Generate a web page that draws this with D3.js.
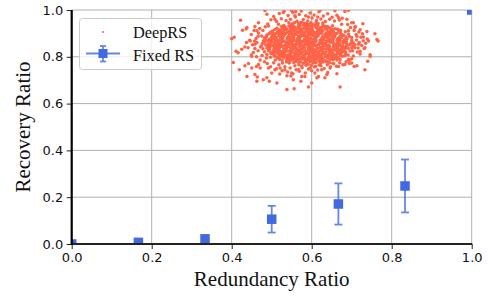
<!DOCTYPE html>
<html><head><meta charset="utf-8">
<script src="https://cdn.jsdelivr.net/npm/d3@7"></script>
<style>html,body{margin:0;padding:0;background:#fff;}svg{display:block}</style>
</head><body><svg id="c" width="488" height="297"></svg>
<script>
// ---- data ----
const xTicks = [0, 0.2, 0.4, 0.6, 0.8, 1.0];
const yTicks = [0, 0.2, 0.4, 0.6, 0.8, 1.0];
const fixedX = [0, 0.1667, 0.3333, 0.5, 0.6667, 0.8333, 1.0];
const fixedY = [0.0, 0.007, 0.022, 0.106, 0.171, 0.248, 1.0];
const fixedErr = [0, 0.004, 0.012, 0.057, 0.088, 0.113, 0];
const deepRS = [
[0.552,0.941],[0.557,0.946],[0.570,0.944],[0.575,0.948],[0.582,0.943],[0.593,0.940],[0.598,0.945],[0.611,0.947],[0.616,0.942],[0.628,0.944],
[0.525,0.929],[0.530,0.934],[0.543,0.932],[0.548,0.936],[0.555,0.931],[0.566,0.928],[0.571,0.933],[0.585,0.935],[0.591,0.930],[0.598,0.932],[0.610,0.929],[0.615,0.934],[0.628,0.936],[0.633,0.931],[0.640,0.928],[0.652,0.933],
[0.508,0.917],[0.513,0.922],[0.526,0.920],[0.531,0.924],[0.538,0.919],[0.549,0.916],[0.554,0.921],[0.568,0.923],[0.574,0.918],[0.581,0.920],[0.593,0.917],[0.598,0.922],[0.611,0.924],[0.616,0.919],[0.623,0.916],[0.634,0.921],[0.639,0.923],[0.653,0.918],[0.659,0.920],[0.666,0.917],
[0.497,0.905],[0.502,0.910],[0.515,0.908],[0.520,0.912],[0.527,0.907],[0.538,0.904],[0.543,0.909],[0.557,0.911],[0.563,0.906],[0.570,0.908],[0.582,0.905],[0.587,0.910],[0.600,0.912],[0.605,0.907],[0.612,0.904],[0.623,0.909],[0.628,0.911],[0.642,0.906],[0.648,0.908],[0.655,0.905],[0.667,0.910],[0.672,0.912],[0.684,0.907],
[0.488,0.893],[0.493,0.898],[0.506,0.896],[0.511,0.900],[0.518,0.895],[0.529,0.892],[0.534,0.897],[0.548,0.899],[0.554,0.894],[0.561,0.896],[0.573,0.893],[0.578,0.898],[0.591,0.900],[0.596,0.895],[0.603,0.892],[0.614,0.897],[0.619,0.899],[0.633,0.894],[0.639,0.896],[0.646,0.893],[0.658,0.898],[0.663,0.900],[0.675,0.895],[0.680,0.892],[0.692,0.897],
[0.482,0.881],[0.487,0.886],[0.500,0.884],[0.505,0.888],[0.512,0.883],[0.523,0.880],[0.528,0.885],[0.542,0.887],[0.548,0.882],[0.555,0.884],[0.567,0.881],[0.572,0.886],[0.585,0.888],[0.590,0.883],[0.597,0.880],[0.608,0.885],[0.613,0.887],[0.627,0.882],[0.633,0.884],[0.640,0.881],[0.652,0.886],[0.657,0.888],[0.669,0.883],[0.674,0.880],[0.686,0.885],[0.694,0.887],
[0.479,0.869],[0.484,0.874],[0.497,0.872],[0.502,0.876],[0.509,0.871],[0.520,0.868],[0.525,0.873],[0.539,0.875],[0.545,0.870],[0.552,0.872],[0.564,0.869],[0.569,0.874],[0.582,0.876],[0.587,0.871],[0.594,0.868],[0.605,0.873],[0.610,0.875],[0.624,0.870],[0.630,0.872],[0.637,0.869],[0.649,0.874],[0.654,0.876],[0.666,0.871],[0.671,0.868],[0.683,0.873],[0.688,0.875],[0.700,0.870],
[0.477,0.857],[0.482,0.862],[0.495,0.860],[0.500,0.864],[0.507,0.859],[0.518,0.856],[0.523,0.861],[0.537,0.863],[0.543,0.858],[0.550,0.860],[0.562,0.857],[0.567,0.862],[0.580,0.864],[0.585,0.859],[0.592,0.856],[0.603,0.861],[0.608,0.863],[0.622,0.858],[0.628,0.860],[0.635,0.857],[0.647,0.862],[0.652,0.864],[0.664,0.859],[0.669,0.856],[0.681,0.861],[0.686,0.863],[0.698,0.858],[0.704,0.860],
[0.474,0.846],[0.485,0.850],[0.492,0.845],[0.503,0.848],[0.508,0.852],[0.516,0.847],[0.527,0.844],[0.533,0.849],[0.544,0.851],[0.552,0.846],[0.559,0.848],[0.570,0.845],[0.576,0.850],[0.588,0.852],[0.593,0.847],[0.601,0.844],[0.612,0.849],[0.618,0.851],[0.629,0.846],[0.637,0.848],[0.644,0.845],[0.655,0.850],[0.661,0.852],[0.672,0.847],[0.678,0.844],[0.688,0.849],[0.695,0.851],[0.703,0.846],
[0.478,0.834],[0.488,0.838],[0.495,0.833],[0.506,0.836],[0.511,0.840],[0.519,0.835],[0.530,0.832],[0.536,0.837],[0.547,0.839],[0.555,0.834],[0.562,0.836],[0.573,0.833],[0.579,0.838],[0.591,0.840],[0.596,0.835],[0.604,0.832],[0.615,0.837],[0.621,0.839],[0.632,0.834],[0.640,0.836],[0.647,0.833],[0.658,0.838],[0.664,0.840],[0.675,0.835],[0.681,0.832],[0.691,0.837],[0.700,0.839],
[0.482,0.822],[0.492,0.826],[0.499,0.821],[0.510,0.824],[0.515,0.828],[0.523,0.823],[0.534,0.820],[0.540,0.825],[0.551,0.827],[0.559,0.822],[0.566,0.824],[0.577,0.821],[0.583,0.826],[0.595,0.828],[0.600,0.823],[0.608,0.820],[0.619,0.825],[0.625,0.827],[0.636,0.822],[0.644,0.824],[0.651,0.821],[0.662,0.826],[0.668,0.828],[0.679,0.823],[0.685,0.820],[0.696,0.825],
[0.488,0.810],[0.498,0.814],[0.505,0.809],[0.516,0.812],[0.521,0.816],[0.529,0.811],[0.540,0.808],[0.546,0.813],[0.557,0.815],[0.565,0.810],[0.572,0.812],[0.583,0.809],[0.589,0.814],[0.601,0.816],[0.606,0.811],[0.614,0.808],[0.625,0.813],[0.631,0.815],[0.642,0.810],[0.650,0.812],[0.657,0.809],[0.668,0.814],[0.674,0.816],[0.685,0.811],[0.691,0.808],
[0.497,0.798],[0.507,0.802],[0.514,0.797],[0.525,0.800],[0.530,0.804],[0.538,0.799],[0.549,0.796],[0.555,0.801],[0.566,0.803],[0.574,0.798],[0.581,0.800],[0.592,0.797],[0.598,0.802],[0.610,0.804],[0.615,0.799],[0.623,0.796],[0.634,0.801],[0.640,0.803],[0.651,0.798],[0.659,0.800],[0.666,0.797],[0.677,0.802],[0.683,0.804],
[0.509,0.786],[0.519,0.790],[0.526,0.785],[0.537,0.788],[0.542,0.792],[0.550,0.787],[0.561,0.784],[0.567,0.789],[0.578,0.791],[0.586,0.786],[0.593,0.788],[0.604,0.785],[0.610,0.790],[0.622,0.792],[0.627,0.787],[0.635,0.784],[0.646,0.789],[0.652,0.791],[0.663,0.786],[0.671,0.788],
[0.527,0.774],[0.537,0.778],[0.544,0.773],[0.555,0.776],[0.560,0.780],[0.568,0.775],[0.579,0.772],[0.585,0.777],[0.596,0.779],[0.604,0.774],[0.611,0.776],[0.622,0.773],[0.628,0.778],[0.640,0.780],[0.645,0.775],[0.653,0.772],
[0.558,0.762],[0.568,0.766],[0.575,0.761],[0.586,0.764],[0.591,0.768],[0.599,0.763],[0.610,0.760],[0.619,0.765],
[0.498,0.958],[0.505,0.972],[0.512,0.951],[0.519,0.985],[0.524,0.963],[0.531,0.994],[0.536,0.955],[0.541,0.977],[0.547,0.961],[0.553,0.989],[0.559,0.970],[0.563,0.952],[0.569,0.981],[0.574,0.996],[0.579,0.959],[0.585,0.975],[0.590,0.953],[0.596,0.987],[0.601,0.966],[0.606,0.979],[0.612,0.955],[0.618,0.992],[0.623,0.962],[0.629,0.974],[0.634,0.951],[0.640,0.984],[0.645,0.960],[0.651,0.969],[0.657,0.953],[0.663,0.978],[0.669,0.957],[0.676,0.965],[0.543,0.945],[0.592,0.970],[0.560,0.993],[0.615,0.970],
[0.445,0.871],[0.452,0.852],[0.449,0.895],[0.458,0.835],[0.461,0.878],[0.456,0.912],[0.463,0.861],[0.467,0.902],[0.454,0.818],[0.466,0.826],[0.470,0.921],[0.472,0.842],[0.441,0.839],[0.437,0.861],[0.462,0.800],[0.476,0.806],[0.478,0.912],[0.484,0.928],[0.487,0.795],[0.471,0.786],[0.449,0.808],[0.458,0.930],[0.490,0.940],[0.482,0.779],[0.466,0.888],[0.457,0.867],
[0.708,0.851],[0.712,0.872],[0.716,0.838],[0.711,0.895],[0.719,0.861],[0.723,0.884],[0.706,0.912],[0.714,0.821],[0.725,0.848],[0.729,0.869],[0.702,0.826],[0.718,0.906],[0.731,0.836],[0.735,0.858],[0.704,0.803],[0.697,0.925],[0.690,0.938],[0.700,0.792],[0.721,0.812],[0.739,0.876],[0.709,0.930],[0.694,0.785],[0.713,0.888],[0.727,0.899],
[0.489,0.771],[0.497,0.758],[0.505,0.775],[0.512,0.749],[0.518,0.766],[0.526,0.740],[0.533,0.757],[0.540,0.735],[0.546,0.752],[0.553,0.728],[0.561,0.745],[0.569,0.738],[0.576,0.753],[0.584,0.731],[0.592,0.748],[0.600,0.740],[0.607,0.756],[0.615,0.744],[0.623,0.762],[0.631,0.750],[0.639,0.766],[0.647,0.757],[0.655,0.770],[0.662,0.760],[0.670,0.775],[0.678,0.766],[0.686,0.779],[0.694,0.771],[0.520,0.727],[0.583,0.716],[0.640,0.733],[0.548,0.718],
[0.422,0.956],[0.400,0.877],[0.406,0.884],[0.411,0.824],[0.404,0.776],[0.419,0.745],[0.438,0.716],[0.427,0.913],[0.436,0.919],[0.463,0.695],[0.479,0.702],[0.513,0.688],[0.538,0.660],[0.556,0.663],[0.592,0.671],[0.671,0.671],[0.573,0.695],[0.613,0.710],[0.638,0.724],[0.733,0.745],[0.706,0.759],[0.740,0.781],[0.763,0.874],[0.766,0.867],[0.758,0.898],[0.746,0.809],[0.728,0.941],[0.721,0.916],[0.704,0.945],
[0.433,0.762],[0.442,0.771],[0.450,0.752],[0.462,0.759],[0.467,0.767],[0.471,0.752],[0.458,0.724],[0.464,0.714],[0.488,0.710],[0.494,0.695],[0.538,0.719],[0.554,0.702],[0.508,0.745],[0.521,0.752],[0.533,0.745],[0.492,0.752],[0.500,0.731],[0.550,0.731],[0.567,0.745],[0.575,0.716],[0.416,0.817],[0.450,0.802],
[0.600,0.688],[0.617,0.716],[0.633,0.710],[0.663,0.728],[0.608,0.731],[0.625,0.745],[0.646,0.752],[0.667,0.759],[0.683,0.767],[0.700,0.774],[0.713,0.762],[0.746,0.802],[0.721,0.824],[0.692,0.788],[0.654,0.788],[0.596,0.752],
[0.438,0.925],[0.446,0.868],[0.433,0.842],[0.467,0.946],[0.463,0.911],[0.488,0.982],[0.483,0.998],[0.475,0.889],[0.458,0.854],[0.492,0.932],[0.508,0.961],[0.517,0.939],[0.529,0.989],[0.550,0.997],[0.558,0.975],[0.425,0.832],
[0.621,0.998],[0.658,0.997],[0.683,0.994],[0.692,0.999],[0.688,0.961],[0.700,0.946],[0.708,0.925],[0.738,0.908],[0.742,0.868],[0.729,0.885],[0.717,0.854],[0.733,0.839],[0.700,0.882],[0.692,0.911],[0.667,0.968],[0.675,0.939],[0.708,0.839]
];
// denser inner core of the DeepRS cloud
const deepRSCore = [
[0.567,0.941],[0.579,0.936],[0.586,0.942],[0.592,0.937],[0.604,0.938],[0.611,0.934],
[0.533,0.929],[0.547,0.924],[0.552,0.930],[0.558,0.925],[0.570,0.926],[0.580,0.922],[0.585,0.928],[0.598,0.923],[0.601,0.927],[0.612,0.930],[0.621,0.924],[0.626,0.926],[0.639,0.929],[0.646,0.923],
[0.519,0.914],[0.529,0.910],[0.534,0.916],[0.547,0.911],[0.550,0.915],[0.561,0.918],[0.570,0.912],[0.575,0.914],[0.588,0.917],[0.595,0.912],[0.601,0.918],[0.615,0.913],[0.620,0.914],[0.626,0.910],[0.638,0.916],[0.648,0.911],[0.653,0.915],[0.665,0.918],
[0.504,0.900],[0.518,0.906],[0.524,0.901],[0.530,0.902],[0.544,0.898],[0.550,0.904],[0.557,0.899],[0.569,0.903],[0.576,0.906],[0.581,0.900],[0.594,0.902],[0.601,0.905],[0.607,0.900],[0.621,0.906],[0.625,0.901],[0.636,0.902],[0.645,0.898],[0.649,0.904],[0.660,0.899],[0.671,0.903],
[0.501,0.893],[0.507,0.889],[0.519,0.890],[0.525,0.886],[0.530,0.892],[0.543,0.887],[0.552,0.891],[0.557,0.894],[0.567,0.888],[0.579,0.890],[0.583,0.893],[0.590,0.888],[0.602,0.894],[0.612,0.889],[0.616,0.890],[0.627,0.886],[0.638,0.892],[0.643,0.887],[0.653,0.891],[0.658,0.894],[0.671,0.888],[0.678,0.890],
[0.494,0.875],[0.506,0.879],[0.509,0.882],[0.521,0.876],[0.527,0.878],[0.539,0.881],[0.542,0.876],[0.554,0.882],[0.564,0.877],[0.569,0.878],[0.582,0.874],[0.587,0.880],[0.596,0.875],[0.606,0.879],[0.610,0.882],[0.624,0.876],[0.629,0.878],[0.642,0.881],[0.645,0.876],[0.656,0.882],[0.665,0.877],[0.670,0.878],[0.683,0.874],
[0.489,0.868],[0.500,0.863],[0.511,0.867],[0.516,0.870],[0.527,0.864],[0.531,0.866],[0.543,0.869],[0.551,0.864],[0.557,0.870],[0.571,0.865],[0.575,0.866],[0.587,0.862],[0.593,0.868],[0.599,0.863],[0.611,0.867],[0.621,0.870],[0.625,0.864],[0.639,0.866],[0.643,0.869],[0.653,0.864],[0.663,0.870],[0.667,0.865],[0.679,0.866],[0.686,0.862],
[0.491,0.854],[0.496,0.857],[0.509,0.852],[0.516,0.858],[0.523,0.853],[0.536,0.854],[0.539,0.850],[0.551,0.856],[0.558,0.851],[0.569,0.855],[0.572,0.858],[0.583,0.852],[0.595,0.854],[0.601,0.857],[0.607,0.852],[0.619,0.858],[0.628,0.853],[0.632,0.854],[0.643,0.850],[0.655,0.856],[0.659,0.851],[0.667,0.855],[0.678,0.858],[0.688,0.852],
[0.494,0.841],[0.499,0.846],[0.508,0.839],[0.519,0.842],[0.522,0.844],[0.535,0.838],[0.540,0.843],[0.554,0.845],[0.558,0.840],[0.568,0.846],[0.578,0.842],[0.582,0.839],[0.594,0.844],[0.600,0.841],[0.610,0.846],[0.622,0.840],[0.626,0.842],[0.638,0.845],[0.641,0.838],[0.654,0.843],[0.661,0.840],[0.668,0.846],[0.681,0.842],[0.686,0.839],
[0.493,0.832],[0.505,0.828],[0.511,0.834],[0.517,0.830],[0.531,0.827],[0.535,0.831],[0.546,0.826],[0.554,0.833],[0.564,0.830],[0.570,0.828],[0.576,0.834],[0.591,0.829],[0.596,0.832],[0.606,0.826],[0.611,0.830],[0.624,0.833],[0.627,0.829],[0.639,0.834],[0.648,0.827],[0.655,0.831],[0.667,0.830],[0.671,0.828],[0.681,0.833],
[0.502,0.815],[0.509,0.821],[0.514,0.818],[0.527,0.817],[0.533,0.822],[0.546,0.816],[0.549,0.819],[0.560,0.814],[0.570,0.820],[0.574,0.818],[0.586,0.821],[0.593,0.815],[0.605,0.819],[0.611,0.822],[0.617,0.816],[0.630,0.818],[0.633,0.814],[0.646,0.820],[0.653,0.821],[0.665,0.817],[0.669,0.818],[0.677,0.822],
[0.508,0.807],[0.520,0.803],[0.523,0.810],[0.535,0.806],[0.544,0.804],[0.548,0.809],[0.559,0.802],[0.567,0.808],[0.579,0.806],[0.583,0.810],[0.594,0.805],[0.602,0.803],[0.607,0.808],[0.621,0.806],[0.626,0.810],[0.639,0.804],[0.644,0.807],[0.651,0.802],[0.662,0.809],[0.672,0.806],
[0.518,0.794],[0.530,0.797],[0.540,0.792],[0.545,0.798],[0.554,0.791],[0.560,0.795],[0.573,0.793],[0.581,0.797],[0.586,0.790],[0.600,0.796],[0.605,0.794],[0.613,0.792],[0.624,0.798],[0.628,0.793],[0.640,0.796],[0.648,0.791],[0.659,0.795],
[0.540,0.780],[0.546,0.784],[0.559,0.782],[0.565,0.786],[0.572,0.779],[0.584,0.783],[0.587,0.781],[0.600,0.785],[0.607,0.778],[0.618,0.782],[0.622,0.784],[0.636,0.780]
];
const seriesNames = ["DeepRS", "Fixed RS"];
const xLabel = "Redundancy Ratio", yLabel = "Recovery Ratio";

// ---- chart ----
const svg = d3.select("#c");
const X0 = 71.7, X1 = 471.7, Y0 = 244, Y1 = 10;
const x = d3.scaleLinear().domain([0, 1]).range([X0, X1]);
const y = d3.scaleLinear().domain([0, 1]).range([Y0, Y1]);
const blue = "#4169E1", red = "#FF6347";

svg.append("defs").append("clipPath").attr("id", "clip")
  .append("rect").attr("x", X0).attr("y", Y1).attr("width", X1 - X0).attr("height", Y0 - Y1);

// grid
const grid = svg.append("g").attr("stroke", "#b0b0b0").attr("stroke-width", 1);
grid.selectAll(".gx").data(xTicks.filter(d => d > 0)).join("line")
  .attr("x1", d => x(d)).attr("x2", d => x(d)).attr("y1", Y0).attr("y2", Y1);
grid.selectAll(".gy").data(yTicks.filter(d => d > 0)).join("line")
  .attr("x1", X0).attr("x2", X1).attr("y1", d => y(d)).attr("y2", d => y(d));

const plot = svg.append("g").attr("clip-path", "url(#clip)");
plot.selectAll("circle.deep").data(deepRS.concat(deepRSCore)).join("circle")
  .attr("cx", d => x(d[0])).attr("cy", d => y(d[1])).attr("r", 1.75).attr("fill", red);

const fixed = fixedX.map((v, i) => ({x: v, y: fixedY[i], e: fixedErr[i]}));
const eb = plot.append("g").attr("stroke", blue).attr("stroke-width", 1.8).attr("opacity", 0.8);
fixed.forEach(d => {
  if (d.e <= 0) return;
  eb.append("line").attr("x1", x(d.x)).attr("x2", x(d.x)).attr("y1", y(d.y - d.e)).attr("y2", y(d.y + d.e));
  eb.append("line").attr("x1", x(d.x) - 4).attr("x2", x(d.x) + 4).attr("y1", y(d.y - d.e)).attr("y2", y(d.y - d.e));
  eb.append("line").attr("x1", x(d.x) - 4).attr("x2", x(d.x) + 4).attr("y1", y(d.y + d.e)).attr("y2", y(d.y + d.e));
});
const sq = 9.5;
plot.selectAll("rect.fx").data(fixed).join("rect")
  .attr("x", d => x(d.x) - sq / 2).attr("y", d => y(d.y) - sq / 2)
  .attr("width", sq).attr("height", sq).attr("fill", blue);

// axes
const fmt = d3.format(".1f");
const ax = svg.append("g").attr("transform", `translate(0,${Y0})`)
  .call(d3.axisBottom(x).tickValues(xTicks).tickFormat(fmt).tickSize(5).tickPadding(4).tickSizeOuter(0));
const ay = svg.append("g").attr("transform", `translate(${X0},0)`)
  .call(d3.axisLeft(y).tickValues(yTicks).tickFormat(fmt).tickSize(5).tickPadding(3.5).tickSizeOuter(0));
[ax, ay].forEach(g => {
  g.select(".domain").remove();
  g.selectAll("line").attr("stroke", "#222").attr("stroke-width", 1);
  g.selectAll("text").attr("font-family", "DejaVu Sans").attr("font-size", 13).attr("fill", "#111");
});
// spines
svg.append("line").attr("x1", X0).attr("x2", X1 + 0.5).attr("y1", Y0).attr("y2", Y0).attr("stroke", "#222").attr("stroke-width", 1.8);
svg.append("line").attr("x1", X0).attr("x2", X0).attr("y1", Y0 + 1).attr("y2", Y1).attr("stroke", "#000").attr("stroke-width", 2.2);

// labels
svg.append("text").attr("x", (X0 + X1) / 2).attr("y", 286).attr("text-anchor", "middle")
  .attr("font-family", "Liberation Serif").attr("font-size", 21).attr("fill", "#111").text(xLabel);
svg.append("text").attr("transform", `translate(30,${(Y0 + Y1) / 2}) rotate(-90)`).attr("text-anchor", "middle")
  .attr("font-family", "Liberation Serif").attr("font-size", 21).attr("fill", "#111").text(yLabel);

// legend
const lg = svg.append("g");
lg.append("rect").attr("x", 79.5).attr("y", 18.5).attr("width", 122).attr("height", 51).attr("rx", 3)
  .attr("fill", "#fff").attr("fill-opacity", 0.8).attr("stroke", "#cccccc").attr("stroke-width", 1);
lg.append("circle").attr("cx", 103).attr("cy", 32).attr("r", 1.1).attr("fill", red);
const lb = lg.append("g").attr("stroke", blue).attr("stroke-width", 1.8).attr("opacity", 0.8);
lb.append("line").attr("x1", 86).attr("x2", 120).attr("y1", 53.5).attr("y2", 53.5);
lb.append("line").attr("x1", 103).attr("x2", 103).attr("y1", 46).attr("y2", 61.5);
lb.append("line").attr("x1", 100).attr("x2", 106).attr("y1", 46).attr("y2", 46);
lb.append("line").attr("x1", 100).attr("x2", 106).attr("y1", 61.5).attr("y2", 61.5);
lg.append("rect").attr("x", 103 - 4.5).attr("y", 53.5 - 4.5).attr("width", 9).attr("height", 9).attr("fill", blue);
lg.selectAll("text").data(seriesNames).join("text")
  .attr("x", 133).attr("y", (d, i) => 37.5 + i * 23)
  .attr("font-family", "Liberation Serif").attr("font-size", 16.3).attr("fill", "#111").text(d => d);
</script></body></html>
